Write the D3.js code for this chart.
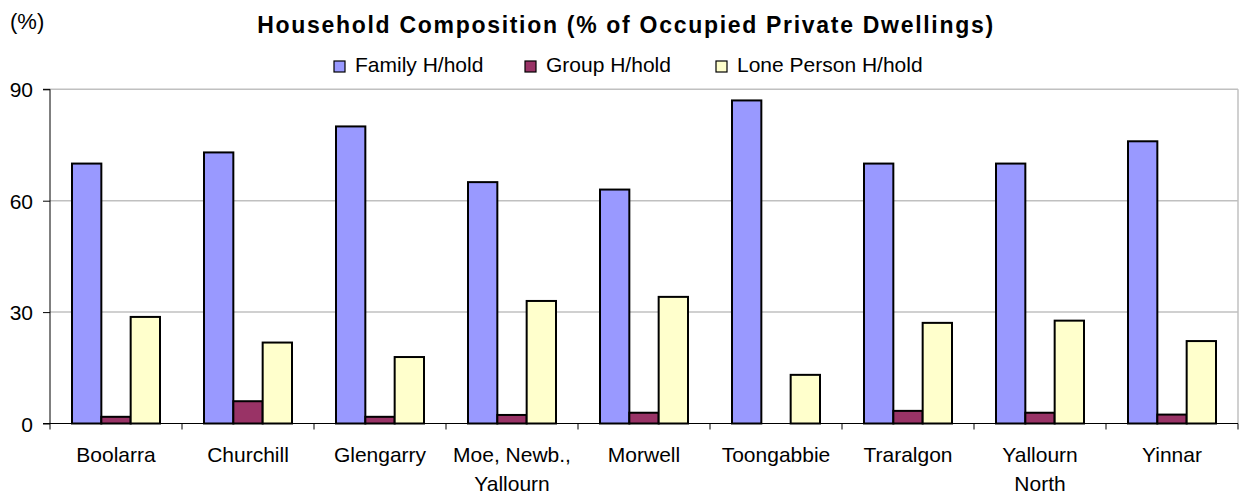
<!DOCTYPE html>
<html lang="en">
  <head>
    <meta charset="UTF-8" />
    <script src="https://d3js.org/d3.v7.min.js"></script>
    <title>Household Composition</title>
    <style>
      body {
        margin: 0;
        background: #fff;
      }
      svg text {
        font-family: "Liberation Sans", Arial, sans-serif;
        fill: #000;
      }
      .title {
        font-size: 23px;
        font-weight: bold;
        letter-spacing: 1.7px;
      }
      .lbl {
        font-size: 21px;
      }
    </style>
  </head>
  <body>
    <svg id="chart" width="1246" height="496"></svg>
    <script>
      const width = 1246;
      const height = 496;

      // data
      const categories = [
        ["Boolarra"],
        ["Churchill"],
        ["Glengarry"],
        ["Moe, Newb.,", "Yallourn"],
        ["Morwell"],
        ["Toongabbie"],
        ["Traralgon"],
        ["Yallourn", "North"],
        ["Yinnar"]
      ];
      const seriesNames = ["Family H/hold", "Group H/hold", "Lone Person H/hold"];
      const family = [70, 73, 80, 65, 63, 87, 70, 70, 76];
      const group = [1.8, 6, 1.8, 2.3, 2.9, 0, 3.4, 2.9, 2.4];
      const lone = [28.7, 21.8, 17.9, 33, 34.1, 13.1, 27.1, 27.7, 22.2];
      const yTicks = [0, 30, 60, 90];

      const colors = ["#9999ff", "#993366", "#ffffcc"];
      const values = [family, group, lone];

      const plot = { left: 50, right: 1238, top: 89.3, bottom: 423.5 };

      const svg = d3.select("#chart");

      const catKeys = categories.map(d => d.join(" "));
      const x0 = d3.scaleBand()
        .domain(catKeys)
        .range([plot.left, plot.right])
        .paddingInner(0)
        .paddingOuter(0);

      const x1 = d3.scaleBand()
        .domain(seriesNames)
        .range([0, x0.bandwidth()])
        .paddingInner(0)
        .paddingOuter(0.75);

      const y = d3.scaleLinear()
        .domain([0, 90])
        .range([plot.bottom, plot.top]);

      // gridlines
      svg.append("g")
        .selectAll("line")
        .data(yTicks.filter(d => d > 0))
        .join("line")
        .attr("x1", plot.left)
        .attr("x2", plot.right)
        .attr("y1", d => y(d))
        .attr("y2", d => y(d))
        .attr("stroke", "#c0c0c0")
        .attr("stroke-width", 1.5);

      // right border of plot area
      svg.append("line")
        .attr("x1", plot.right)
        .attr("x2", plot.right)
        .attr("y1", plot.top)
        .attr("y2", plot.bottom)
        .attr("stroke", "#c0c0c0")
        .attr("stroke-width", 1.5);

      // bars
      const rows = catKeys.map((c, i) => ({
        key: c,
        bars: seriesNames.map((s, j) => ({ series: s, value: values[j][i], color: colors[j] }))
      }));

      svg.append("g")
        .selectAll("g")
        .data(rows)
        .join("g")
        .attr("transform", d => `translate(${x0(d.key)},0)`)
        .selectAll("rect")
        .data(d => d.bars.filter(b => b.value > 0))
        .join("rect")
        .attr("x", d => x1(d.series))
        .attr("width", x1.bandwidth())
        .attr("y", d => y(d.value))
        .attr("height", d => y(0) - y(d.value))
        .attr("fill", d => d.color)
        .attr("stroke", "#000")
        .attr("stroke-width", 2);

      // y axis
      const yAxis = d3.axisLeft(y)
        .tickValues(yTicks)
        .tickSize(7)
        .tickPadding(10);
      const gy = svg.append("g")
        .attr("transform", `translate(${plot.left},0)`)
        .call(yAxis);
      gy.select(".domain").attr("stroke", "#000").attr("d", `M-7,${plot.top}H0V${plot.bottom}H-7`);
      gy.selectAll("text")
        .attr("class", "lbl")
        .attr("font-family", null)
        .attr("font-size", null)
        .attr("dy", "0.36em");

      // x axis: line + ticks at category boundaries
      const gx = svg.append("g");
      gx.append("line")
        .attr("x1", plot.left)
        .attr("x2", plot.right)
        .attr("y1", plot.bottom)
        .attr("y2", plot.bottom)
        .attr("stroke", "#000");
      const bounds = catKeys.map(c => x0(c)).concat([plot.right]);
      gx.selectAll(".tick")
        .data(bounds)
        .join("line")
        .attr("class", "tick")
        .attr("x1", d => d)
        .attr("x2", d => d)
        .attr("y1", plot.bottom)
        .attr("y2", plot.bottom + 6)
        .attr("stroke", "#000");

      gx.selectAll(".xlabel")
        .data(categories)
        .join("text")
        .attr("class", "xlabel lbl")
        .attr("text-anchor", "middle")
        .attr("x", (d, i) => x0(catKeys[i]) + x0.bandwidth() / 2)
        .attr("y", 462)
        .selectAll("tspan")
        .data(d => d)
        .join("tspan")
        .attr("x", function() { return d3.select(this.parentNode).attr("x"); })
        .attr("dy", (d, i) => (i === 0 ? 0 : 28.5))
        .text(d => d);

      // title and unit
      svg.append("text")
        .attr("class", "title")
        .attr("text-anchor", "middle")
        .attr("x", 626)
        .attr("y", 33)
        .text("Household Composition (% of Occupied Private Dwellings)");

      svg.append("text")
        .attr("class", "lbl")
        .attr("x", 10)
        .attr("y", 29)
        .style("font-size", "22px")
        .text("(%)");

      // legend
      const legendX = [334, 525, 716];
      const legend = svg.append("g")
        .selectAll("g")
        .data(seriesNames)
        .join("g")
        .attr("transform", (d, i) => `translate(${legendX[i]},61)`);
      legend.append("rect")
        .attr("width", 11)
        .attr("height", 11)
        .attr("fill", (d, i) => colors[i])
        .attr("stroke", "#000")
        .attr("stroke-width", 1.2);
      legend.append("text")
        .attr("class", "lbl")
        .attr("x", 21)
        .attr("y", 11)
        .text(d => d);
    </script>
  </body>
</html>
